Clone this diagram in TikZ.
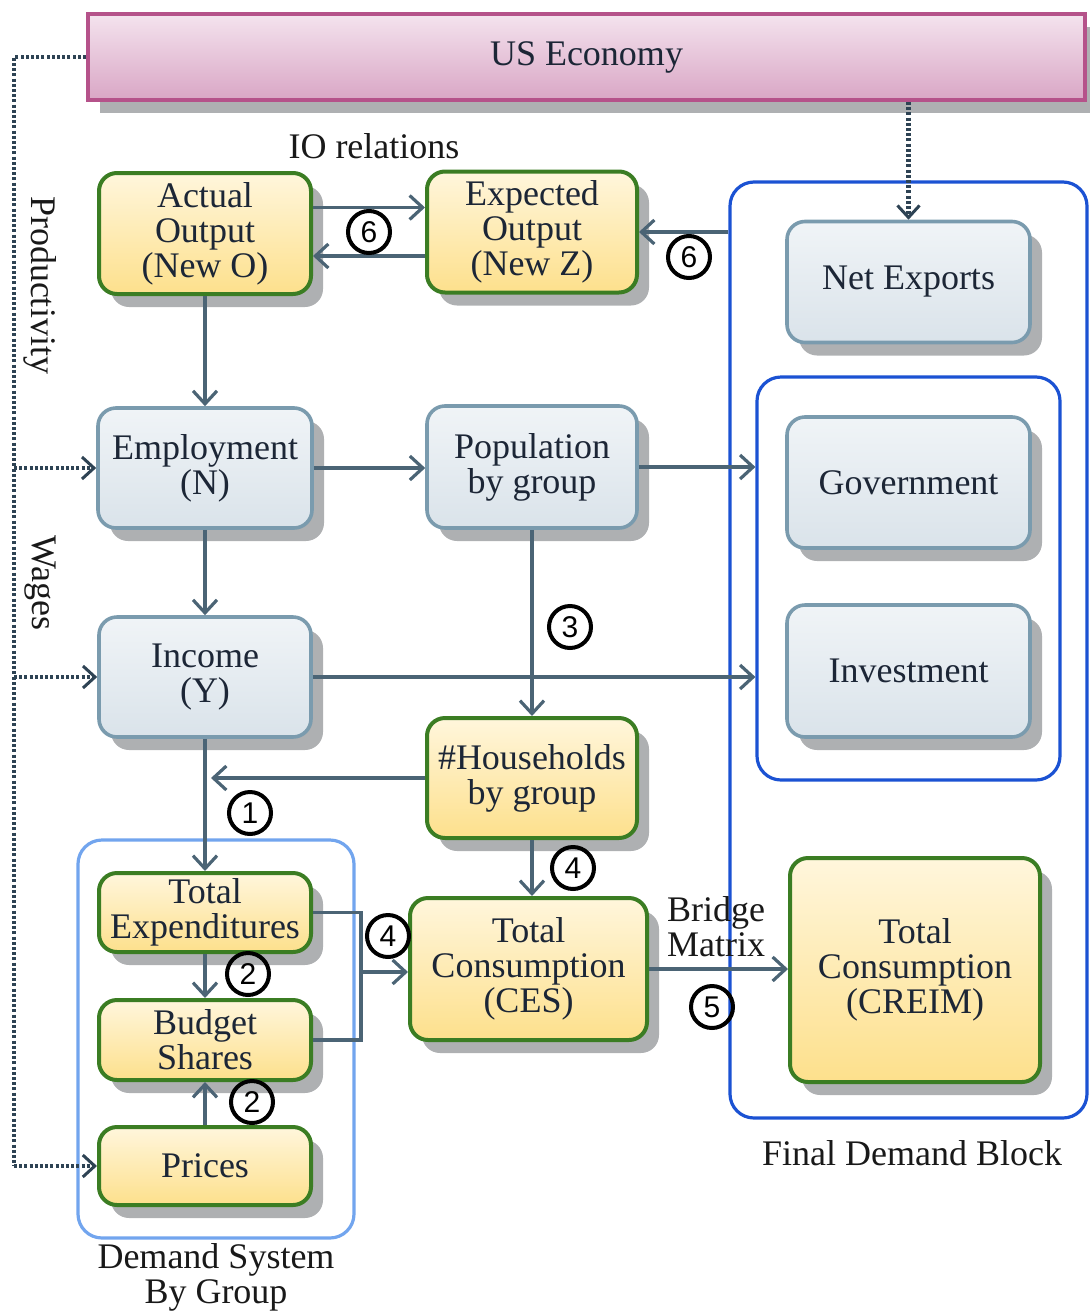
\documentclass[tikz,border=0pt]{standalone}
\usepackage{fontspec}
\setmainfont{Liberation Serif}
\newfontfamily\digitfont{Liberation Sans}
\usetikzlibrary{arrows.meta,shadows,fit}

\definecolor{ytop}{HTML}{FFF6DC}
\definecolor{ybot}{HTML}{FDE08C}
\definecolor{greenb}{HTML}{3B7D23}
\definecolor{btop}{HTML}{F0F4F7}
\definecolor{bbot}{HTML}{DAE3EA}
\definecolor{blueb}{HTML}{7A9BAE}
\definecolor{ptop}{HTML}{F4E3EE}
\definecolor{pbot}{HTML}{D9A6C5}
\definecolor{pinkb}{HTML}{B5528A}
\definecolor{arrc}{HTML}{4B6475}
\definecolor{dotc}{HTML}{2E4354}
\definecolor{txt}{HTML}{1C2636}
\definecolor{shadowgray}{HTML}{A0A2A4}
\definecolor{blockblue}{HTML}{1B52D3}
\definecolor{lightblue}{HTML}{72A5EE}

\tikzset{
  base/.style={rounded corners=9pt, align=center, inner sep=1pt, text=txt,
    font=\fontsize{18}{17.5}\selectfont,
    drop shadow={shadow xshift=6pt, shadow yshift=-6.5pt, fill=shadowgray, opacity=.85}},
  ybox/.style={base, draw=greenb, line width=2pt, top color=ytop, bottom color=ybot},
  bbox/.style={base, draw=blueb, line width=1.8pt, top color=btop, bottom color=bbot},
  pbox/.style={base, rounded corners=0pt, draw=pinkb, line width=2pt, top color=ptop, bottom color=pbot},
  wh/.style 2 args={minimum width=#1*0.5pt, minimum height=#2*0.5pt},
  container/.style={rounded corners=12pt, line width=1.6pt, inner sep=0pt},
  arr/.style={draw=arrc, line width=1.8pt, -{Straight Barb[length=6.5pt,width=12pt,line width=1.6pt]}},
  link/.style={draw=arrc, line width=1.8pt},
  dotl/.style={draw=dotc, line width=2.4pt, dash pattern=on 1.5pt off 1.1pt},
  dotarr/.style={dotl, -{Straight Barb[length=6pt,width=11pt,line width=1.5pt]}},
  num/.style={circle, draw=black, line width=2pt, inner sep=0pt, minimum size=21pt,
    font=\digitfont\fontsize{15}{15}\selectfont},
  lbl/.style={text=black!90, align=center, font=\fontsize{18}{17.5}\selectfont},
}

\begin{document}
\begin{tikzpicture}[x=0.5pt,y=-0.5pt]
\useasboundingbox (0,0) rectangle (1089,1312);

% group frames
\node[container, draw=blockblue, fit={(730,182) (1087,1118)}] (fdb) {};
\node[container, draw=blockblue, fit={(757,377) (1060,780)}] (inner) {};
\node[container, draw=lightblue, fit={(78,840) (354,1238)}] (dsys) {};

% economy bar
\node[pbox, wh={997}{86}] (useco) at (586.5,57) {US Economy};

% left column
\node[ybox, wh={212}{121}] (actual) at (205,233.5) {Actual\\Output\\(New O)};
\node[bbox, wh={214}{120}] (emp) at (205,468) {Employment\\(N)};
\node[bbox, wh={212}{120}] (inc) at (205,677) {Income\\(Y)};
\node[ybox, wh={212}{79}] (texp) at (205,912.5) {Total\\Expenditures};
\node[ybox, wh={212}{80}] (budg) at (205,1040) {Budget\\Shares};
\node[ybox, wh={212}{78}] (prices) at (205,1166) {Prices};

% middle column
\node[ybox, wh={210}{121}] (expected) at (532,232) {Expected\\Output\\(New Z)};
\node[bbox, wh={210}{122}] (pop) at (532,467) {Population\\by group};
\node[ybox, wh={210}{120}] (hh) at (532,778) {\#Households\\by group};
\node[ybox, wh={237}{142}] (ces) at (528.5,969) {Total\\Consumption\\(CES)};

% final demand block
\node[bbox, wh={243}{121}] (netex) at (908.5,282) {Net Exports};
\node[bbox, wh={243}{131}] (gov) at (908.5,482.5) {Government};
\node[bbox, wh={243}{132}] (inv) at (908.5,671) {Investment};
\node[ybox, wh={250}{224}] (creim) at (915,970) {Total\\Consumption\\(CREIM)};

% labels
\node[lbl] (io) at (374,146) {IO relations};
\node[lbl] (fdblbl) at (912,1153) {Final Demand Block};
\node[lbl] (dslbl) at (216,1277) {Demand System\\By Group};
\node[lbl] (bridge) at (716,927) {Bridge\\Matrix};
\node[lbl, rotate=-90] (prod) at (40,285) {Productivity};
\node[lbl, rotate=-90] (wages) at (40,583) {Wages};

% dotted influence lines
\coordinate (lt) at (14,57);
\draw[dotl] (useco.west) -- (lt) -- (lt |- prices.west);
\draw[dotarr] (lt |- emp.west) -- (emp.west);
\draw[dotarr] (lt |- inc.west) -- (inc.west);
\draw[dotarr] (lt |- prices.west) -- (prices.west);
\draw[dotarr] (useco.south -| netex.north) -- (netex.north);

% IO relations
\draw[arr] ([yshift=13pt]actual.east) -- ([yshift=13pt]expected.west |- actual.east);
\draw[arr] ([yshift=-12pt]expected.west) -- ([yshift=-12pt]actual.east |- expected.west);
\draw[arr] (fdb.west |- expected.east) -- (expected.east);

% main flows
\draw[arr] (actual.south) -- (emp.north);
\draw[arr] (emp.east) -- (pop.west |- emp.east);
\draw[arr] (pop.east) -- (inner.west |- pop.east);
\draw[arr] (emp.south) -- (inc.north);
\draw[arr] (inc.east) -- (inner.west |- inc.east);
\draw[arr] (pop.south) -- (hh.north);
\draw[arr] (inc.south) -- (texp.north);
\draw[arr] (hh.west) -- ([xshift=3pt]inc.south |- hh.west);
\draw[arr] (texp.south) -- (budg.north);
\draw[arr] (prices.north) -- (budg.south);
\coordinate (br) at (361,972);
\draw[link] (texp.east) -| (br) |- (budg.east);
\draw[arr] (br) -- (ces.west |- br);
\draw[arr] (hh.south) -- (hh.south |- ces.north);
\draw[arr] (ces.east) -- (creim.west |- ces.east);

% step numbers
\node[num] (n6a) at (369,232) {6};
\node[num] (n6b) at (689,257) {6};
\node[num] (n3) at (570,627) {3};
\node[num] (n1) at (250,813) {1};
\node[num] (n4a) at (573,868) {4};
\node[num] (n4b) at (388,936) {4};
\node[num] (n2a) at (248,974) {2};
\node[num] (n2b) at (252,1102) {2};
\node[num] (n5) at (712,1007) {5};
\end{tikzpicture}
\end{document}
